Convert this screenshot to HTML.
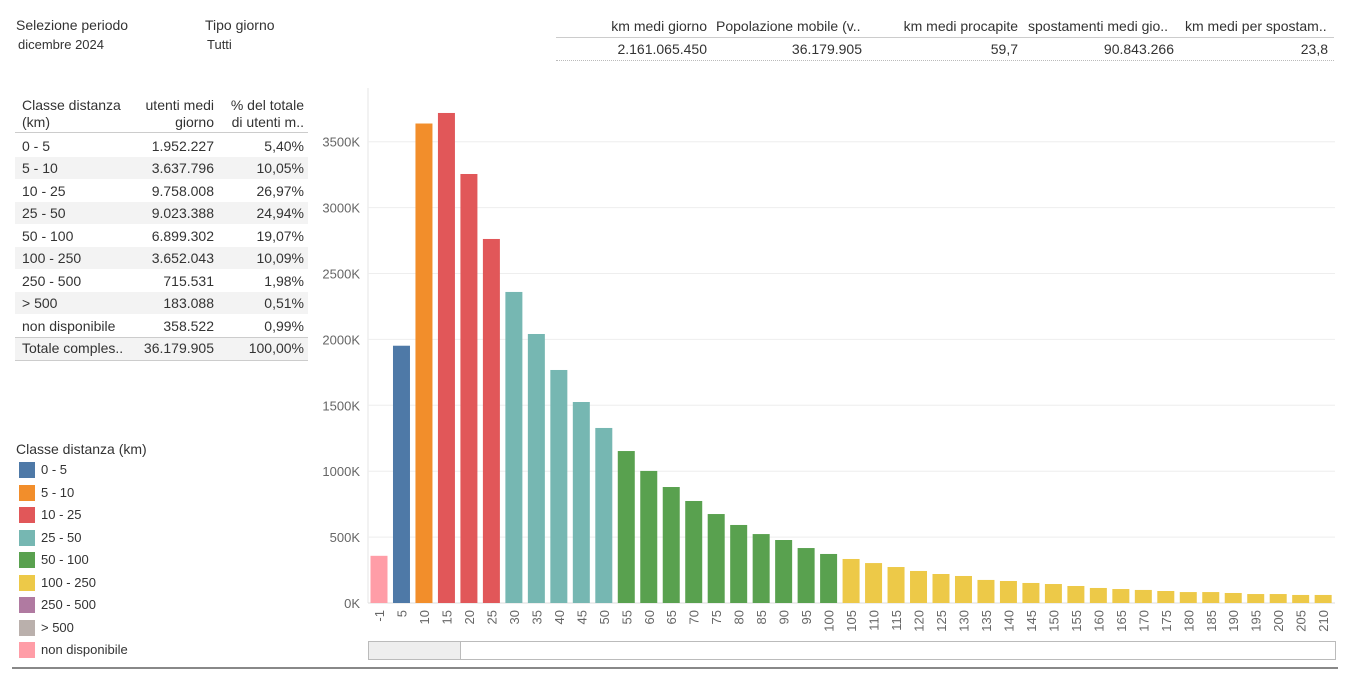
<!DOCTYPE html>
<html><head><meta charset="utf-8"><style>
body{margin:0;width:1350px;height:673px;background:#fff;font-family:"Liberation Sans",sans-serif;color:#333;position:relative;overflow:hidden;font-size:13px}
.a{position:absolute;white-space:nowrap}
.r{text-align:right}
</style></head><body>
<div class="a" style="left:16px;top:17px;font-size:14px">Selezione periodo</div>
<div class="a" style="left:18px;top:37px;font-size:13px">dicembre 2024</div>
<div class="a" style="left:205px;top:17px;font-size:14px">Tipo giorno</div>
<div class="a" style="left:207px;top:37px;font-size:13px">Tutti</div>

<div>
<div class="a r" style="left:560px;width:147px;top:18px;font-size:14px">km medi giorno</div>
<div class="a" style="left:716px;top:18px;font-size:14px">Popolazione mobile (v..</div>
<div class="a r" style="left:870px;width:148px;top:18px;font-size:14px">km medi procapite</div>
<div class="a" style="left:1028px;top:18px;font-size:14px">spostamenti medi gio..</div>
<div class="a" style="left:1185px;top:18px;font-size:14px">km medi per spostam..</div>
<div class="a" style="left:556px;top:37px;width:778px;border-top:1px solid #ccc"></div>
<div class="a r" style="left:560px;width:147px;top:41px;font-size:14px">2.161.065.450</div>
<div class="a r" style="left:716px;width:146px;top:41px;font-size:14px">36.179.905</div>
<div class="a r" style="left:870px;width:148px;top:41px;font-size:14px">59,7</div>
<div class="a r" style="left:1028px;width:146px;top:41px;font-size:14px">90.843.266</div>
<div class="a r" style="left:1185px;width:143px;top:41px;font-size:14px">23,8</div>
<div class="a" style="left:556px;top:60px;width:778px;border-top:1px dotted #bbb"></div>
</div>

<div id="tbl"></div>
<div id="leg"></div>

<svg id="chart" class="a" style="left:0;top:0" width="1350" height="673"></svg>
<div class="a" style="left:368px;top:641px;width:966px;height:17px;border:1px solid #bbb"></div>
<div class="a" style="left:369px;top:642px;width:91px;height:17px;background:#eee;border-right:1px solid #bbb"></div>
<div class="a" style="left:12px;top:667px;width:1326px;border-top:2px solid #888"></div>

<script>
const categories=[-1,5,10,15,20,25,30,35,40,45,50,55,60,65,70,75,80,85,90,95,100,105,110,115,120,125,130,135,140,145,150,155,160,165,170,175,180,185,190,195,200,205,210];
const values=[358,1952,3638,3718,3255,2762,2360,2041,1768,1525,1328,1153,1002,880,774,675,592,523,478,417,372,334,303,273,243,220,205,175,167,152,144,129,114,106,99,91,83,83,76,68,68,61,61];
const yTicks=[0,500,1000,1500,2000,2500,3000,3500];
const classNames=["0 - 5","5 - 10","10 - 25","25 - 50","50 - 100","100 - 250","250 - 500","> 500","non disponibile"];
const classColors=["#4e79a7","#f28e2b","#e15759","#76b7b2","#59a14f","#edc948","#b07aa1","#bab0ac","#ff9da7"];
const tUsers=["1.952.227","3.637.796","9.758.008","9.023.388","6.899.302","3.652.043","715.531","183.088","358.522"];
const tPct=["5,40%","10,05%","26,97%","24,94%","19,07%","10,09%","1,98%","0,51%","0,99%"];

function cls(c){if(c<0)return 8;if(c<=5)return 0;if(c<=10)return 1;if(c<=25)return 2;if(c<=50)return 3;if(c<=100)return 4;if(c<=250)return 5;if(c<=500)return 6;return 7;}
const NS="http://www.w3.org/2000/svg";
const svg=document.getElementById('chart');
const y0=603,pxPerK=65.9/500;
const y=v=>y0-v*pxPerK;
const x=i=>379+i*22.48;
function el(t,a){const e=document.createElementNS(NS,t);for(const k in a)e.setAttribute(k,a[k]);svg.appendChild(e);return e;}
let ax=el('line',{x1:368,x2:368,y1:88,y2:y0,stroke:'#e6e6e6'});


yTicks.forEach(t=>{
 const g=el('line',{x1:368,x2:1335,y1:y(t),y2:y(t),stroke:t===0?'#ddd':'#eeeeee'});
 
 
 const l=el('text',{x:360,y:y(t)+5,'text-anchor':'end','font-size':13,fill:'#666','font-family':'Liberation Sans'});
 l.textContent=t+'K';
 
 
});
categories.forEach((c,i)=>{
 const b=el('rect',{x:x(i)-8.5,y:y(values[i]),width:17,height:values[i]*pxPerK,fill:classColors[cls(c)]});
 
 
 const t=el('text',{transform:`translate(${x(i)+5},610) rotate(-90)`,'text-anchor':'end','font-size':13,fill:'#666','font-family':'Liberation Sans'});
 t.textContent=c;
 
 
});

const tbl=document.getElementById('tbl');
let h='<div class="a" style="left:22px;top:97px;font-size:14px;line-height:17px">Classe distanza<br>(km)</div>'+
'<div class="a r" style="left:130px;width:84px;top:97px;font-size:14px;line-height:17px">utenti medi<br>giorno</div>'+
'<div class="a r" style="left:220px;width:84px;top:97px;font-size:14px;line-height:17px">% del totale<br>di utenti m..</div>'+
'<div class="a" style="left:15px;top:132px;width:293px;border-top:1px solid #ccc"></div>';
const rowsY=[135,157,180,202,225,247,270,292,315,337];
for(let i=0;i<10;i++){
 const tot=i===9;
 const shade=(i%2===1);
 h+=`<div class="a" style="left:15px;top:${rowsY[i]}px;width:293px;height:22px;background:${shade?'#f3f3f3':'#fff'};${tot?'border-top:1px solid #ccc;border-bottom:1px solid #ccc':''}"></div>`;
 h+=`<div class="a" style="left:22px;top:${rowsY[i]+3}px;font-size:14px">${tot?'Totale comples..':classNames[i]}</div>`;
 h+=`<div class="a r" style="left:120px;width:94px;top:${rowsY[i]+3}px;font-size:14px">${tot?'36.179.905':tUsers[i]}</div>`;
 h+=`<div class="a r" style="left:220px;width:84px;top:${rowsY[i]+3}px;font-size:14px">${tot?'100,00%':tPct[i]}</div>`;
}
tbl.innerHTML=h;

const leg=document.getElementById('leg');
let lh='<div class="a" style="left:16px;top:441px;font-size:14px">Classe distanza (km)</div>';
classNames.forEach((n,i)=>{
 const yy=462+i*22.5;
 lh+=`<div class="a" style="left:19px;top:${yy}px;width:16px;height:16px;background:${classColors[i]}"></div><div class="a" style="left:41px;top:${yy}px;font-size:13px">${n}</div>`;
});
leg.innerHTML=lh;
</script>
</body></html>
